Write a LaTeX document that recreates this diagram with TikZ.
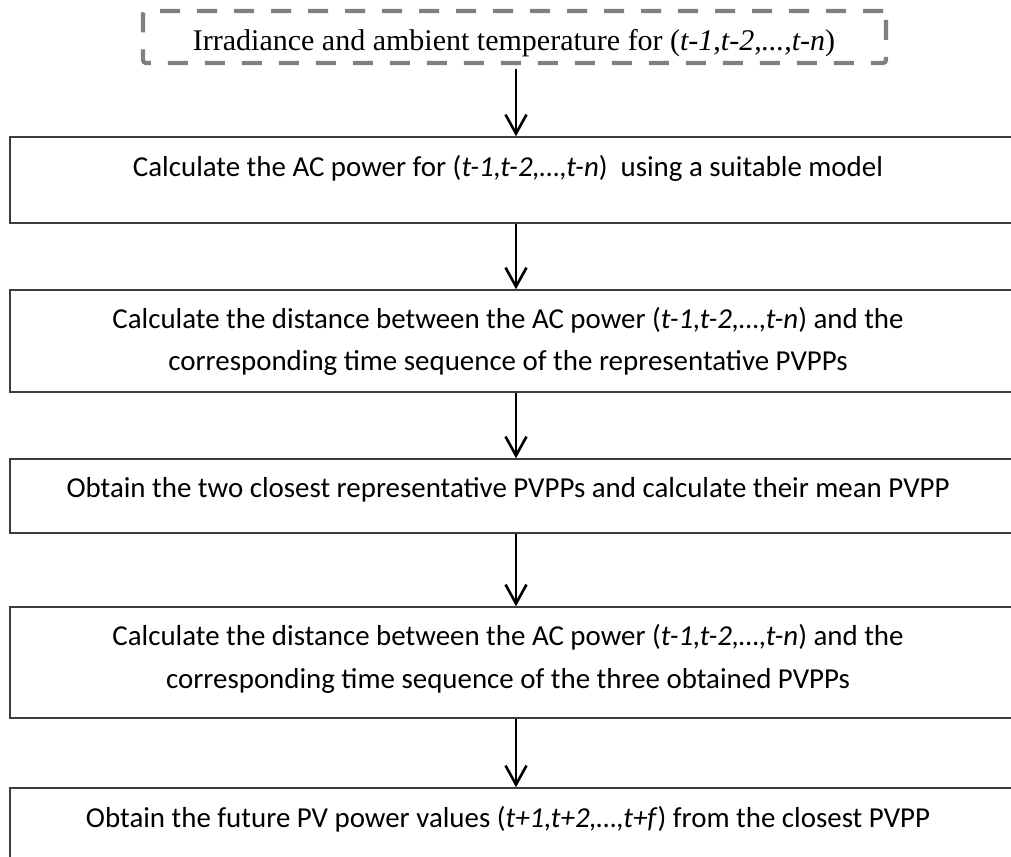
\documentclass[tikz,border=0pt]{standalone}
\usepackage{fontspec}
\setmainfont{Carlito}
\newfontfamily\timesfont{Liberation Serif}
\usetikzlibrary{arrows.meta,fit}
\definecolor{edgecol}{RGB}{60,60,60}
\definecolor{dashcol}{RGB}{128,128,128}
\begin{document}
\begin{tikzpicture}[x=0.5pt,y=-0.5pt,
  stepbox/.style={draw=edgecol, line width=0.75pt, inner sep=0pt},
  inbox/.style={draw=dashcol, line width=2.1pt, dash pattern=on 10pt off 8.5pt, rounded corners=1.5pt, inner sep=0pt},
  txt/.style={anchor=base, font=\fontsize{14.45}{21}\selectfont, inner sep=0pt},
  flow/.style={line width=1.3pt, -{Straight Barb[length=9.5pt,width=10.5pt]}}
]
\useasboundingbox (0,0) rectangle (1011,856);
\fill[white] (0,0) rectangle (1011,856);
\coordinate (ax) at (516,0);

\node[inbox, fit={(143,11)(886,63)}] (d) {};
\node[stepbox, fit={(10,137)(1016,223)}] (b1) {};
\node[stepbox, fit={(10,290)(1016,392)}] (b2) {};
\node[stepbox, fit={(10,459)(1016,533)}] (b3) {};
\node[stepbox, fit={(10,607)(1016,718)}] (b4) {};
\node[stepbox, fit={(10,788)(1016,880)}] (b5) {};

\node[txt, font=\timesfont\fontsize{15}{18}\selectfont] (t0) at (514,51) {Irradiance and ambient temperature for (\textit{t-1},\textit{t-2},\textit{...},\textit{t-n})};
\node[txt] (t1) at (508,176) {Calculate the AC power for (\textit{t-1,t-2,…,t-n})\ \ using a suitable model};
\node[txt] (t2a) at (508,328) {Calculate the distance between the AC power (\textit{t-1,t-2,…,t-n}) and the};
\node[txt] (t2b) at (508,370) {corresponding time sequence of the representative PVPPs};
\node[txt] (t3) at (508,497) {Obtain the two closest representative PVPPs and calculate their mean PVPP};
\node[txt] (t4a) at (508,645) {Calculate the distance between the AC power (\textit{t-1,t-2,…,t-n}) and the};
\node[txt] (t4b) at (508,688) {corresponding time sequence of the three obtained PVPPs};
\node[txt] (t5) at (508,827) {Obtain the future PV power values (\textit{t+1,t+2,…,t+f}) from the closest PVPP};

\draw[flow, shorten <=2pt] (d.south -| ax) -- (b1.north -| ax);
\draw[flow] (b1.south -| ax) -- (b2.north -| ax);
\draw[flow] (b2.south -| ax) -- (b3.north -| ax);
\draw[flow] (b3.south -| ax) -- (b4.north -| ax);
\draw[flow] (b4.south -| ax) -- (b5.north -| ax);
\end{tikzpicture}
\end{document}
